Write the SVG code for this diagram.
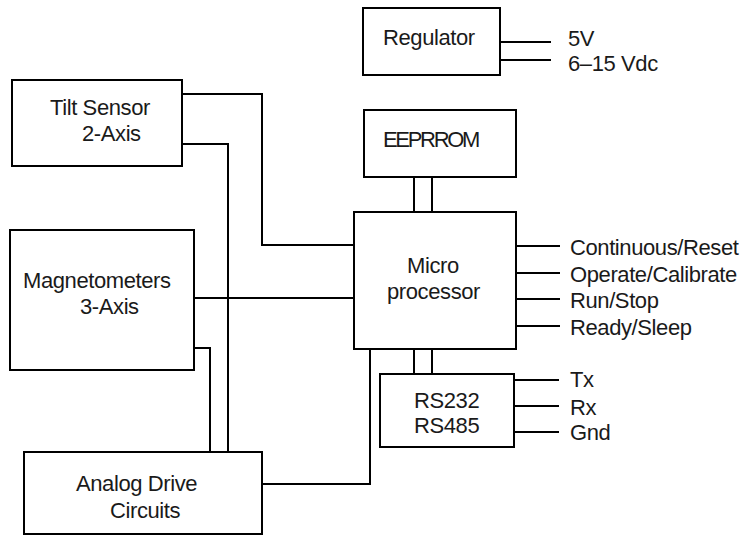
<svg xmlns="http://www.w3.org/2000/svg" width="743" height="536" viewBox="0 0 743 536">
<style>
.box{fill:#fff;stroke:#000;stroke-width:2}
.ln{fill:none;stroke:#000;stroke-width:2}
text{font-family:"Liberation Sans",Arial,sans-serif;font-size:22px;letter-spacing:-0.4px;fill:#1a1a1a}
</style>
<rect width="743" height="536" fill="#fff"/>
<g id="connectors">
<path class="ln" d="M500 42H551M500 60H551"/>
<path class="ln" d="M414 177V212M432 177V212"/>
<path class="ln" d="M182 94H262V245H354"/>
<path class="ln" d="M182 144H228V452"/>
<path class="ln" d="M194 298H354"/>
<path class="ln" d="M194 348H210V452"/>
<path class="ln" d="M370 349V484H262"/>
<path class="ln" d="M414 349V374M432 349V374"/>
<path class="ln" d="M516 246H560M516 273H560M516 299H560M516 326H560"/>
<path class="ln" d="M514 380H559M514 406H559M514 432H559"/>
</g>
<g id="regulator">
<rect class="box" x="363" y="8" width="137" height="67"/>
<text x="383" y="45">Regulator</text>
</g>
<g id="power-labels">
<text x="568" y="46">5V</text>
<text x="568" y="71">6–15 Vdc</text>
</g>
<g id="eeprom">
<rect class="box" x="364" y="110" width="152" height="67"/>
<text x="383" y="147" textLength="97" lengthAdjust="spacing">EEPRROM</text>
</g>
<g id="tilt">
<rect class="box" x="12" y="80" width="170" height="86"/>
<text x="50" y="115">Tilt Sensor</text>
<text x="82" y="141">2-Axis</text>
</g>
<g id="magnetometers">
<rect class="box" x="10" y="230" width="184" height="140"/>
<text x="23" y="288">Magnetometers</text>
<text x="80" y="314">3-Axis</text>
</g>
<g id="micro">
<rect class="box" x="354" y="212" width="162" height="137"/>
<text x="407" y="273">Micro</text>
<text x="387" y="299">processor</text>
</g>
<g id="micro-labels">
<text x="570" y="255">Continuous/Reset</text>
<text x="570" y="282">Operate/Calibrate</text>
<text x="570" y="308">Run/Stop</text>
<text x="570" y="335">Ready/Sleep</text>
</g>
<g id="rs">
<rect class="box" x="380" y="374" width="134" height="73"/>
<text x="414" y="408">RS232</text>
<text x="414" y="433">RS485</text>
</g>
<g id="rs-labels">
<text x="570" y="387">Tx</text>
<text x="570" y="415">Rx</text>
<text x="570" y="440">Gnd</text>
</g>
<g id="analog">
<rect class="box" x="24" y="452" width="238" height="82"/>
<text x="76" y="491">Analog Drive</text>
<text x="110" y="518">Circuits</text>
</g>
</svg>
